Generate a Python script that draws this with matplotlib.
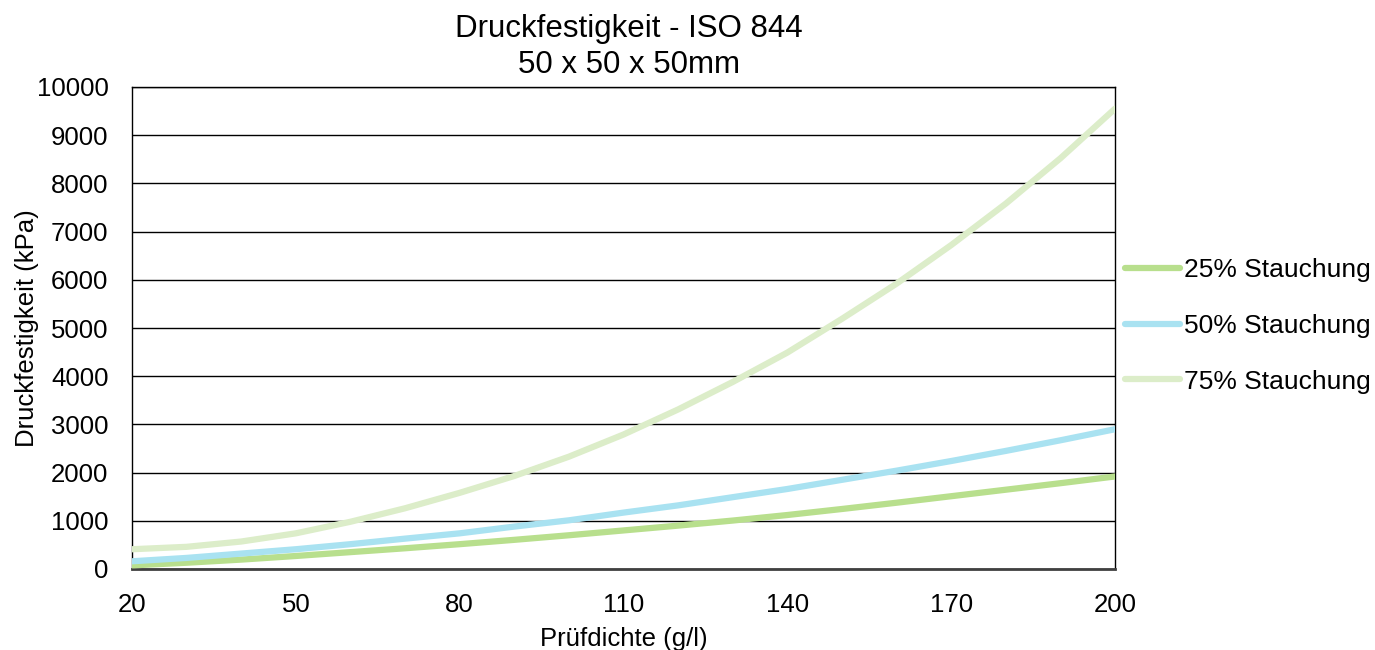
import matplotlib
matplotlib.use("Agg")
import matplotlib.pyplot as plt

plt.rcParams["font.family"] = ["Liberation Sans", "DejaVu Sans"]

# Prüfdichte (g/l)
density = [20, 30, 40, 50, 60, 70, 80, 90, 100, 110, 120, 130, 140, 150, 160, 170, 180, 190, 200]

# Druckfestigkeit (kPa)
comp_25 = [75, 130, 195, 270, 350, 430, 515, 605, 700, 800, 900, 1005, 1120, 1245, 1375, 1510, 1645, 1780, 1920]
comp_50 = [160, 230, 320, 410, 515, 630, 740, 880, 1010, 1170, 1320, 1490, 1660, 1850, 2040, 2240, 2450, 2670, 2900]
comp_75 = [410, 460, 570, 740, 980, 1260, 1580, 1930, 2330, 2790, 3310, 3880, 4490, 5190, 5920, 6720, 7580, 8520, 9550]

series_labels = ["25% Stauchung", "50% Stauchung", "75% Stauchung"]
series_colors = ["#b8df8d", "#a9e2f1", "#dcedc9"]

x_ticks = [20, 50, 80, 110, 140, 170, 200]
y_ticks = list(range(0, 10001, 1000))

fig = plt.figure(figsize=(13.75, 6.5), dpi=100)
ax = fig.add_axes([132 / 1375, 1 - 569 / 650, (1115 - 132) / 1375, (569 - 87) / 650])

for vals, lab, col in zip([comp_25, comp_50, comp_75], series_labels, series_colors):
    ax.plot(density, vals, color=col, lw=4.5, solid_capstyle="round",
            solid_joinstyle="round", label=lab, zorder=3)

ax.set_xlim(20, 200)
ax.set_ylim(0, 10000)
ax.set_xticks(x_ticks)
ax.set_yticks(y_ticks)
ax.tick_params(axis="both", length=0, labelsize=18.5)
ax.tick_params(axis="y", pad=17)
ax.tick_params(axis="x", pad=17.5)
ax.grid(axis="y", color="black", lw=1)
ax.set_axisbelow(True)
for side in ["left", "right", "top"]:
    ax.spines[side].set_color("black")
    ax.spines[side].set_linewidth(1)
ax.spines["bottom"].set_color("#404040")
ax.spines["bottom"].set_linewidth(2)

ax.set_xlabel("Prüfdichte (g/l)", fontsize=18.5, labelpad=7)
ax.set_ylabel("Druckfestigkeit (kPa)", fontsize=18.5, labelpad=-2)

fig.text(629 / 1375, 1 - 47 / 650, "Druckfestigkeit - ISO 844\n50 x 50 x 50mm",
         ha="center", va="center", fontsize=22.5, linespacing=1.3)

fig.legend(loc="center left", bbox_to_anchor=(1125 / 1375, 1 - 326 / 650), frameon=False,
           fontsize=19, handlelength=2.1, handletextpad=0.15, labelspacing=1.2,
           borderaxespad=0, borderpad=0)

fig.savefig("out.png", dpi=100, facecolor="white")
